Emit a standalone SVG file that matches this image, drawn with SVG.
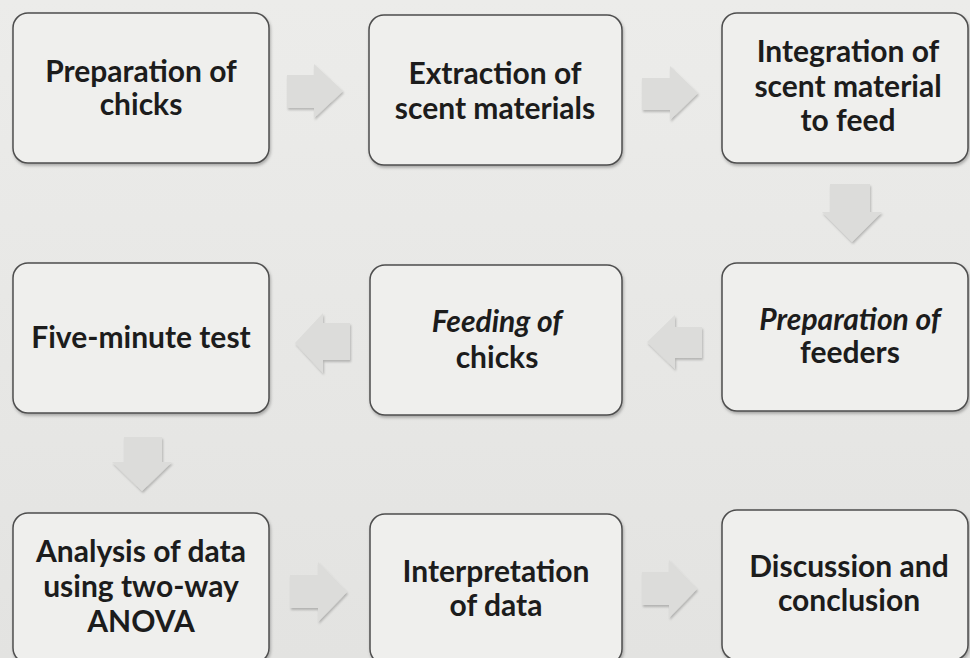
<svg xmlns="http://www.w3.org/2000/svg" width="970" height="658" viewBox="0 0 970 658">
  <defs>
    <linearGradient id="paper" x1="0" y1="0" x2="0" y2="1">
      <stop offset="0" stop-color="#ececea"/>
      <stop offset="1" stop-color="#e3e3e1"/>
    </linearGradient>
    <filter id="boxShadow" x="-5%" y="-5%" width="110%" height="115%">
      <feDropShadow dx="1" dy="2" stdDeviation="1.5" flood-color="#000" flood-opacity="0.28"/>
    </filter>
    <filter id="arrowShadow" x="-20%" y="-20%" width="140%" height="140%">
      <feDropShadow dx="1" dy="2" stdDeviation="1.2" flood-color="#000" flood-opacity="0.22"/>
    </filter>
  </defs>
  <style>
    .box rect { fill: #efefed; stroke: #4e4e4e; stroke-width: 1.5; filter: url(#boxShadow); }
    .box text { font-family: Lato, "Liberation Sans", sans-serif; font-weight: 700; font-size: 30px; fill: #1c1c1c; text-anchor: middle; }
    .box text.it { font-style: italic; }
    .arrow { fill: #dcdcda; filter: url(#arrowShadow); }
  </style>

  <rect x="0" y="0" width="970" height="658" fill="url(#paper)"/>

  <!-- process steps, row by row -->
  <g id="prep-chicks" class="box">
    <rect x="13" y="13" width="256" height="150" rx="15"/>
    <text x="141" y="82">Preparation of</text>
    <text x="141" y="115">chicks</text>
  </g>
  <g id="extraction" class="box">
    <rect x="369" y="15" width="253" height="150" rx="15"/>
    <text x="495" y="84">Extraction of</text>
    <text x="495" y="119">scent materials</text>
  </g>
  <g id="integration" class="box">
    <rect x="722" y="13" width="246" height="150" rx="15"/>
    <text x="848" y="62">Integration of</text>
    <text x="848" y="97">scent material</text>
    <text x="848" y="131">to feed</text>
  </g>

  <g id="five-minute-test" class="box">
    <rect x="13" y="263" width="256" height="150" rx="15"/>
    <text x="141" y="348">Five-minute test</text>
  </g>
  <g id="feeding" class="box">
    <rect x="370" y="265" width="252" height="150" rx="15"/>
    <text class="it" x="497" y="332">Feeding of</text>
    <text x="497" y="368">chicks</text>
  </g>
  <g id="prep-feeders" class="box">
    <rect x="722" y="263" width="246" height="148" rx="15"/>
    <text class="it" x="850" y="330">Preparation of</text>
    <text x="850" y="363">feeders</text>
  </g>

  <g id="analysis" class="box">
    <rect x="13" y="513" width="256" height="150" rx="15"/>
    <text x="141" y="562">Analysis of data</text>
    <text x="141" y="597">using two-way</text>
    <text x="141" y="632">ANOVA</text>
  </g>
  <g id="interpretation" class="box">
    <rect x="370" y="514" width="252" height="150" rx="15"/>
    <text x="496" y="582">Interpretation</text>
    <text x="496" y="616">of data</text>
  </g>
  <g id="discussion" class="box">
    <rect x="722" y="510" width="246" height="150" rx="15"/>
    <text x="849" y="577">Discussion and</text>
    <text x="849" y="611">conclusion</text>
  </g>

  <!-- block arrows between steps -->
  <g id="connectors" class="arrow">
    <path d="M287,75 H314 V64 L343,91 L314,118 V108 H287 Z"/>
    <path d="M642,78 H670 V66 L698,93 L670,120 V110 H642 Z"/>
    <path d="M830,184 H870 V212 H882 L852,242 L822,212 H830 Z"/>
    <path d="M702,327 H675 V315 L647,342 L675,369 V358 H702 Z"/>
    <path d="M350,323 H323 V313 L295,343 L323,373 V360 H350 Z"/>
    <path d="M124,437 H162 V462 H172 L142,491 L112,462 H124 Z"/>
    <path d="M290,575 H318 V562 L347,592 L318,622 V608 H290 Z"/>
    <path d="M642,572 H669 V560 L697,589 L669,618 V605 H642 Z"/>
  </g>
</svg>
